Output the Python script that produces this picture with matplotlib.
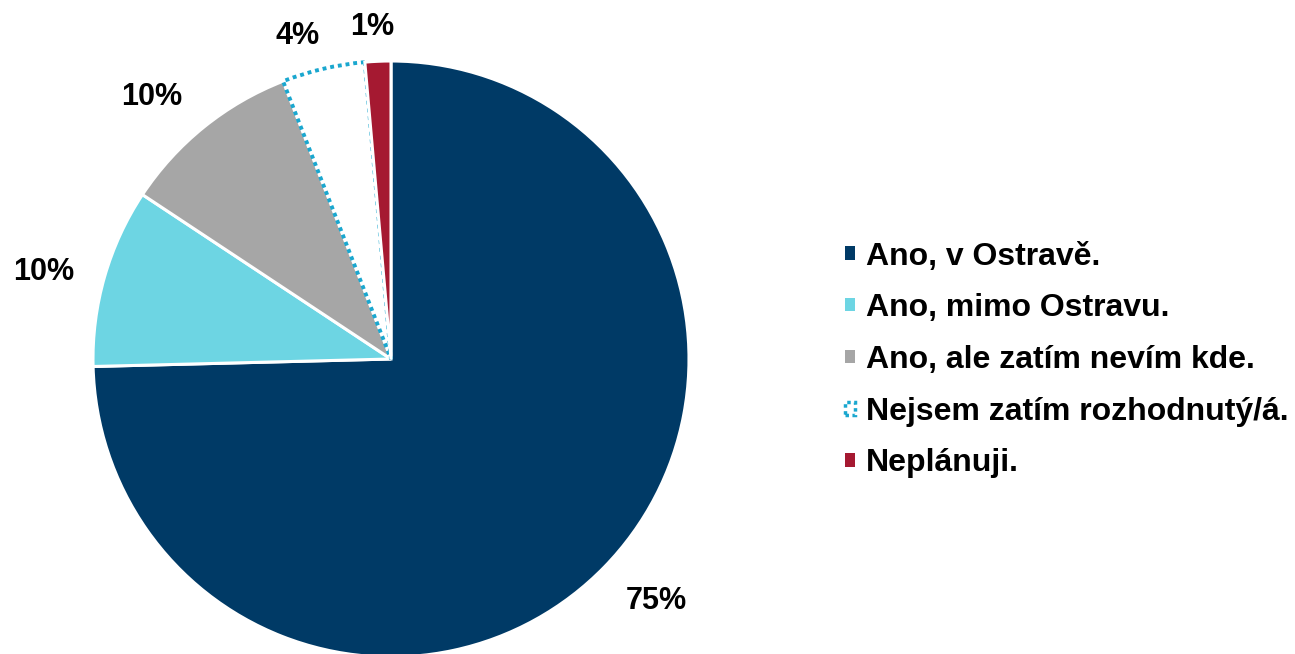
import matplotlib
matplotlib.use("Agg")
import matplotlib.pyplot as plt
import numpy as np
from matplotlib.patches import Patch

plt.rcParams["font.family"] = ["Liberation Sans", "DejaVu Sans"]

categories = ["Ano, v Ostravě.", "Ano, mimo Ostravu.", "Ano, ale zatím nevím kde.",
              "Nejsem zatím rozhodnutý/á.", "Neplánuji."]
shares = [74.6, 9.7, 9.8, 4.5, 1.4]
pct_labels = ["75%", "10%", "10%", "4%", "1%"]

colors = ["#003a66", "#6dd5e3", "#a6a6a6", "#ffffff", "#a51931"]
dot_color = "#1aa7cf"
# label placement: radial distance and small angular nudge (deg)
label_dist = [1.205, 1.2, 1.19, 1.13, 1.115]
label_shift = [2.0, 2.0, 3.5, 3.0, 0.7]

W, H = 1295, 654
fig = plt.figure(figsize=(W / 100, H / 100), dpi=100)
cx, cy, r = 391, 654 - 359, 298
ax = fig.add_axes([(cx - r) / W, (cy - r) / H, 2 * r / W, 2 * r / H])

wedges, _ = ax.pie(shares, colors=colors, startangle=90, counterclock=False,
                   radius=1.0,
                   wedgeprops=dict(edgecolor="white", linewidth=2.2))

# undecided slice: white with dotted cyan outline
wedges[3].set_edgecolor(dot_color)
wedges[3].set_linestyle((0, (1, 1)))
wedges[3].set_linewidth(2.8)
# keep red's white edge above the dotted one
wedges[4].set_zorder(wedges[3].get_zorder() + 1)

for w, txt, d, s in zip(wedges, pct_labels, label_dist, label_shift):
    ang = np.deg2rad((w.theta1 + w.theta2) / 2 + s)
    ax.text(d * np.cos(ang), d * np.sin(ang), txt, ha="center", va="center",
            fontsize=22, fontweight="bold", clip_on=False)

ax.set_xlim(-1, 1)
ax.set_ylim(-1, 1)
ax.set_aspect("equal")
ax.axis("off")

handles = []
for c, lab in zip(colors, categories):
    if c == "#ffffff":
        handles.append(Patch(facecolor="white", edgecolor=dot_color,
                             linestyle=(0, (1, 1)), linewidth=2.5, label=lab))
    else:
        handles.append(Patch(facecolor=c, edgecolor="none", label=lab))

fig.legend(handles=handles, loc="center left", bbox_to_anchor=(845 / W, 1 - 360 / H),
           frameon=False, prop=dict(size=23, weight="bold"),
           handlelength=0.31, handleheight=0.26, handletextpad=0.34,
           labelspacing=0.68, borderpad=0, borderaxespad=0)

fig.savefig("out.png", dpi=100)
